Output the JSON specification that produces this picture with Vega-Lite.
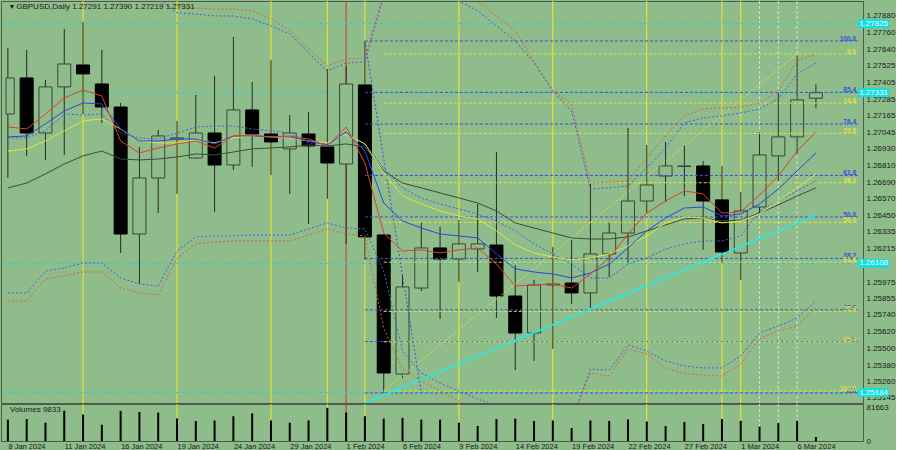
{
  "$schema": "https://vega.github.io/schema/vega-lite/v6.json",
  "background": "#8fbc8b",
  "padding": {"left": 0, "top": 0, "right": 0, "bottom": 0},
  "autosize": {"type": "pad", "contains": "content"},
  "spacing": 1,
  "bounds": "flush",
  "config": {
    "padding": 0,
    "view": {"stroke": "#4f5a4f", "strokeWidth": 1, "fill": "#8fbc8b"},
    "axis": {"grid": false, "ticks": false, "domain": false, "labelFont": "Liberation Sans", "labelColor": "#1a1a1a", "labelOverlap": false},
    "text": {"font": "Liberation Sans"}
  },
  "datasets": {
    "bars": [
      {"i":0,"o":1.27178,"h":1.27651,"l":1.2672,"c":1.27436,"v":52500,"red":1.27085,"blue":1.27014,"yel":1.26913,"gray":1.26649,"bdot":1.27007,"upR":1.28166,"upB":1.28131,"loR":1.25839,"loB":1.25897},
      {"i":1,"o":1.27436,"h":1.27637,"l":1.26878,"c":1.27042,"v":54000,"red":1.27071,"blue":1.27021,"yel":1.26928,"gray":1.26684,"bdot":1.27007,"upR":1.28166,"upB":1.28131,"loR":1.25839,"loB":1.25897},
      {"i":2,"o":1.27042,"h":1.27422,"l":1.26849,"c":1.27372,"v":45000,"red":1.27178,"blue":1.27107,"yel":1.26985,"gray":1.26749,"bdot":1.27057,"upR":1.28166,"upB":1.28131,"loR":1.25997,"loB":1.26054},
      {"i":3,"o":1.27372,"h":1.27787,"l":1.26885,"c":1.27536,"v":74500,"red":1.27293,"blue":1.272,"yel":1.27057,"gray":1.2682,"bdot":1.27178,"upR":1.28166,"upB":1.28131,"loR":1.26018,"loB":1.26076},
      {"i":4,"o":1.27529,"h":1.27837,"l":1.27178,"c":1.27465,"v":65000,"red":1.2735,"blue":1.27257,"yel":1.27128,"gray":1.26878,"bdot":1.27171,"upR":1.28166,"upB":1.28131,"loR":1.26047,"loB":1.26112},
      {"i":5,"o":1.27393,"h":1.27637,"l":1.27114,"c":1.27228,"v":40000,"red":1.27307,"blue":1.2725,"yel":1.27143,"gray":1.26913,"bdot":1.27178,"upR":1.28166,"upB":1.28131,"loR":1.26047,"loB":1.26112},
      {"i":6,"o":1.27228,"h":1.27257,"l":1.26183,"c":1.26319,"v":74000,"red":1.26985,"blue":1.27071,"yel":1.27071,"gray":1.26856,"bdot":1.27042,"upR":1.28166,"upB":1.28131,"loR":1.25932,"loB":1.26004},
      {"i":7,"o":1.26319,"h":1.26942,"l":1.25961,"c":1.2672,"v":71500,"red":1.26899,"blue":1.26985,"yel":1.26985,"gray":1.26849,"bdot":1.27007,"upR":1.28166,"upB":1.28131,"loR":1.25897,"loB":1.25961},
      {"i":8,"o":1.2672,"h":1.27064,"l":1.26469,"c":1.27021,"v":70000,"red":1.26935,"blue":1.26985,"yel":1.26971,"gray":1.26856,"bdot":1.26999,"upR":1.28045,"upB":1.28002,"loR":1.25882,"loB":1.25947},
      {"i":9,"o":1.26999,"h":1.27128,"l":1.26606,"c":1.27007,"v":55500,"red":1.26964,"blue":1.26999,"yel":1.26971,"gray":1.2687,"bdot":1.27042,"upR":1.27952,"upB":1.27902,"loR":1.26147,"loB":1.26197},
      {"i":10,"o":1.26863,"h":1.27314,"l":1.26856,"c":1.27042,"v":49000,"red":1.26985,"blue":1.26999,"yel":1.26992,"gray":1.26892,"bdot":1.27085,"upR":1.27937,"upB":1.27894,"loR":1.26248,"loB":1.26298},
      {"i":11,"o":1.27042,"h":1.2745,"l":1.26477,"c":1.26813,"v":50500,"red":1.26935,"blue":1.26964,"yel":1.26971,"gray":1.26885,"bdot":1.27092,"upR":1.2793,"upB":1.2788,"loR":1.26262,"loB":1.26305},
      {"i":12,"o":1.26813,"h":1.2773,"l":1.26777,"c":1.27207,"v":61000,"red":1.27021,"blue":1.27021,"yel":1.27007,"gray":1.26906,"bdot":1.27092,"upR":1.2793,"upB":1.2788,"loR":1.26269,"loB":1.26305},
      {"i":13,"o":1.27207,"h":1.27407,"l":1.26799,"c":1.27035,"v":68000,"red":1.27028,"blue":1.27021,"yel":1.27021,"gray":1.26928,"bdot":1.27071,"upR":1.27916,"upB":1.27859,"loR":1.26269,"loB":1.26312},
      {"i":14,"o":1.27035,"h":1.27565,"l":1.26742,"c":1.26978,"v":50500,"red":1.27014,"blue":1.27014,"yel":1.27014,"gray":1.26935,"bdot":1.27057,"upR":1.27859,"upB":1.27808,"loR":1.26269,"loB":1.26312},
      {"i":15,"o":1.26928,"h":1.27171,"l":1.26606,"c":1.27042,"v":45000,"red":1.27021,"blue":1.27014,"yel":1.27007,"gray":1.26942,"bdot":1.27042,"upR":1.27773,"upB":1.27751,"loR":1.26269,"loB":1.26312},
      {"i":16,"o":1.27035,"h":1.27193,"l":1.26391,"c":1.26949,"v":50500,"red":1.26999,"blue":1.26985,"yel":1.26985,"gray":1.26956,"bdot":1.26971,"upR":1.27644,"upB":1.27615,"loR":1.26312,"loB":1.26355},
      {"i":17,"o":1.26942,"h":1.27501,"l":1.2657,"c":1.26827,"v":81663,"red":1.26949,"blue":1.26956,"yel":1.26971,"gray":1.26949,"bdot":1.26964,"upR":1.27522,"upB":1.27486,"loR":1.26355,"loB":1.26398},
      {"i":18,"o":1.2682,"h":1.27522,"l":1.26248,"c":1.27393,"v":70000,"red":1.27085,"blue":1.27049,"yel":1.27035,"gray":1.26964,"bdot":1.27042,"upR":1.27572,"upB":1.27543,"loR":1.26319,"loB":1.26362},
      {"i":19,"o":1.27386,"h":1.27701,"l":1.26133,"c":1.26298,"v":61000,"red":1.26827,"blue":1.26913,"yel":1.26964,"gray":1.26942,"bdot":1.26964,"upR":1.27579,"upB":1.27551,"loR":1.26305,"loB":1.26355},
      {"i":20,"o":1.26312,"h":1.26319,"l":1.25181,"c":1.25324,"v":55000,"red":1.26326,"blue":1.26541,"yel":1.26756,"gray":1.2677,"bdot":1.26792,"upR":1.28045,"upB":1.28023,"loR":1.25646,"loB":1.26054},
      {"i":21,"o":1.25317,"h":1.26033,"l":1.25288,"c":1.2594,"v":57000,"red":1.26197,"blue":1.26412,"yel":1.26591,"gray":1.26684,"bdot":1.26649,"upR":1.28202,"upB":1.28166,"loR":1.25352,"loB":1.25481},
      {"i":22,"o":1.25932,"h":1.26405,"l":1.25911,"c":1.26219,"v":52500,"red":1.26205,"blue":1.26362,"yel":1.26534,"gray":1.26649,"bdot":1.26577,"upR":1.28202,"upB":1.28166,"loR":1.25267,"loB":1.25324},
      {"i":23,"o":1.26219,"h":1.26369,"l":1.25711,"c":1.2614,"v":52500,"red":1.26183,"blue":1.26319,"yel":1.26484,"gray":1.26613,"bdot":1.26534,"upR":1.28202,"upB":1.28095,"loR":1.25195,"loB":1.25252},
      {"i":24,"o":1.2614,"h":1.26419,"l":1.25975,"c":1.26248,"v":45000,"red":1.26205,"blue":1.26305,"yel":1.26448,"gray":1.26577,"bdot":1.26498,"upR":1.28095,"upB":1.27987,"loR":1.25123,"loB":1.25195},
      {"i":25,"o":1.26212,"h":1.26534,"l":1.26047,"c":1.26248,"v":37000,"red":1.26219,"blue":1.26291,"yel":1.26427,"gray":1.26541,"bdot":1.26462,"upR":1.27987,"upB":1.27916,"loR":1.25052,"loB":1.25138},
      {"i":26,"o":1.2624,"h":1.26906,"l":1.25718,"c":1.25875,"v":54000,"red":1.26104,"blue":1.26176,"yel":1.26341,"gray":1.26484,"bdot":1.26412,"upR":1.2788,"upB":1.27808,"loR":1.2498,"loB":1.25088},
      {"i":27,"o":1.25875,"h":1.26097,"l":1.25345,"c":1.2561,"v":55000,"red":1.25947,"blue":1.26069,"yel":1.2624,"gray":1.26398,"bdot":1.26341,"upR":1.27773,"upB":1.27701,"loR":1.2498,"loB":1.2498},
      {"i":28,"o":1.2561,"h":1.2599,"l":1.2541,"c":1.25954,"v":49000,"red":1.25954,"blue":1.26047,"yel":1.26183,"gray":1.26362,"bdot":1.26248,"upR":1.27558,"upB":1.27543,"loR":1.2498,"loB":1.2498},
      {"i":29,"o":1.25954,"h":1.26226,"l":1.25496,"c":1.25961,"v":50500,"red":1.25961,"blue":1.26033,"yel":1.26154,"gray":1.26326,"bdot":1.26176,"upR":1.27343,"upB":1.27343,"loR":1.2498,"loB":1.2498},
      {"i":30,"o":1.25968,"h":1.26276,"l":1.25818,"c":1.25897,"v":32000,"red":1.25932,"blue":1.26004,"yel":1.26133,"gray":1.26291,"bdot":1.26104,"upR":1.2725,"upB":1.272,"loR":1.2498,"loB":1.2498},
      {"i":31,"o":1.25897,"h":1.26677,"l":1.25789,"c":1.26176,"v":50500,"red":1.26033,"blue":1.2604,"yel":1.26147,"gray":1.26283,"bdot":1.26004,"upR":1.26684,"upB":1.26641,"loR":1.25324,"loB":1.25352},
      {"i":32,"o":1.26176,"h":1.26405,"l":1.26011,"c":1.26326,"v":49500,"red":1.26147,"blue":1.26104,"yel":1.26176,"gray":1.26283,"bdot":1.26004,"upR":1.26691,"upB":1.26649,"loR":1.25302,"loB":1.25345},
      {"i":33,"o":1.26326,"h":1.27078,"l":1.26112,"c":1.26555,"v":53000,"red":1.26319,"blue":1.26219,"yel":1.26233,"gray":1.26298,"bdot":1.26104,"upR":1.26699,"upB":1.26663,"loR":1.25496,"loB":1.25524},
      {"i":34,"o":1.26555,"h":1.26956,"l":1.26469,"c":1.2667,"v":48000,"red":1.26469,"blue":1.26341,"yel":1.26305,"gray":1.26341,"bdot":1.26147,"upR":1.26863,"upB":1.26792,"loR":1.2546,"loB":1.25481},
      {"i":35,"o":1.26734,"h":1.26978,"l":1.26548,"c":1.26806,"v":36500,"red":1.26555,"blue":1.26434,"yel":1.26398,"gray":1.26384,"bdot":1.26212,"upR":1.27021,"upB":1.26935,"loR":1.2536,"loB":1.2541},
      {"i":36,"o":1.26802,"h":1.26956,"l":1.26591,"c":1.26806,"v":46500,"red":1.26627,"blue":1.26505,"yel":1.26441,"gray":1.26427,"bdot":1.26248,"upR":1.27164,"upB":1.27114,"loR":1.25317,"loB":1.25374},
      {"i":37,"o":1.26806,"h":1.26842,"l":1.26205,"c":1.26555,"v":42000,"red":1.26606,"blue":1.26512,"yel":1.26434,"gray":1.26434,"bdot":1.26269,"upR":1.27214,"upB":1.2715,"loR":1.2531,"loB":1.2536},
      {"i":38,"o":1.26563,"h":1.26806,"l":1.26112,"c":1.2619,"v":54000,"red":1.26469,"blue":1.26448,"yel":1.26398,"gray":1.26412,"bdot":1.26269,"upR":1.27221,"upB":1.27164,"loR":1.25302,"loB":1.2536},
      {"i":39,"o":1.26183,"h":1.2662,"l":1.2599,"c":1.26484,"v":49500,"red":1.26477,"blue":1.26462,"yel":1.26412,"gray":1.26419,"bdot":1.26305,"upR":1.27228,"upB":1.27186,"loR":1.25388,"loB":1.25446},
      {"i":40,"o":1.26512,"h":1.27049,"l":1.26469,"c":1.26885,"v":35500,"red":1.26598,"blue":1.26534,"yel":1.26462,"gray":1.26469,"bdot":1.26484,"upR":1.27257,"upB":1.27214,"loR":1.25567,"loB":1.2561},
      {"i":41,"o":1.26878,"h":1.27329,"l":1.26699,"c":1.27014,"v":44000,"red":1.26734,"blue":1.26641,"yel":1.26555,"gray":1.26527,"bdot":1.26555,"upR":1.27343,"upB":1.27286,"loR":1.25625,"loB":1.2566},
      {"i":42,"o":1.27014,"h":1.27594,"l":1.26892,"c":1.27279,"v":49500,"red":1.26913,"blue":1.2677,"yel":1.26649,"gray":1.26591,"bdot":1.26627,"upR":1.27558,"upB":1.27465,"loR":1.2566,"loB":1.25718},
      {"i":43,"o":1.27291,"h":1.2739,"l":1.27219,"c":1.27331,"v":9833,"red":1.27049,"blue":1.26899,"yel":1.26749,"gray":1.26649,"bdot":1.26699,"upR":1.27608,"upB":1.27543,"loR":1.25796,"loB":1.25839}
    ],
    "vlines": [
      {"i":4,"k":"marker"},{"i":9,"k":"marker"},{"i":14,"k":"marker"},{"i":17,"k":"marker"},{"i":18,"k":"event"},{"i":19,"k":"marker"},{"i":24,"k":"marker"},{"i":29,"k":"marker"},{"i":34,"k":"marker"},{"i":38,"k":"marker"},{"i":39,"k":"marker"},{"i":40,"k":"recent"},{"i":41,"k":"recent"},{"i":42,"k":"recent"}
    ],
    "levels": [{"p":1.27825},{"p":1.27331},{"p":1.26108},{"p":1.25184}],
    "fib": [
      {"set":"A","i":19,"lbl":"100.0","p":1.27701},
      {"set":"A","i":19,"lbl":"85.4","p":1.27333},
      {"set":"A","i":19,"lbl":"76.4","p":1.27106},
      {"set":"A","i":19,"lbl":"61.8","p":1.26738},
      {"set":"A","i":19,"lbl":"50.0","p":1.26441},
      {"set":"A","i":19,"lbl":"38.2","p":1.26144},
      {"set":"A","i":19,"lbl":"23.6","p":1.25776},
      {"set":"A","i":19,"lbl":"14.6","p":1.25549},
      {"set":"A","i":19,"lbl":"0.0","p":1.25181},
      {"set":"B","i":20,"lbl":"0.0","p":1.27608},
      {"set":"B","i":20,"lbl":"14.6","p":1.27256},
      {"set":"B","i":20,"lbl":"23.6","p":1.27039},
      {"set":"B","i":20,"lbl":"38.2","p":1.26686},
      {"set":"B","i":20,"lbl":"50.0","p":1.26402},
      {"set":"B","i":20,"lbl":"61.8","p":1.26117},
      {"set":"B","i":20,"lbl":"76.4","p":1.25765},
      {"set":"B","i":20,"lbl":"85.4","p":1.25547},
      {"set":"B","i":20,"lbl":"100.0","p":1.25195}
    ],
    "trend": [
      {"name":"support","i":19,"p":1.25109},{"name":"support","i":43,"p":1.26455},
      {"name":"fibA","i":19,"p":1.27701},{"name":"fibA","i":22,"p":1.25181},
      {"name":"fibB","i":20,"p":1.25195},{"name":"fibB","i":42,"p":1.27608}
    ]
  },
  "vconcat": [
    {
      "width": 862,
      "height": 402,
      "layer": [
        {
          "data": {"name": "vlines"},
          "mark": {"type": "rule", "strokeWidth": 1},
          "encoding": {
            "x": {"field": "i", "type": "quantitative", "scale": {"domain": [-0.1, 45.24], "nice": false, "zero": false}, "axis": null},
            "color": {"condition": [{"test": "datum.k == 'event'", "value": "#e0301c"}, {"test": "datum.k == 'recent'", "value": "#d6e2cf"}], "value": "#ecec1c"},
            "strokeDash": {"condition": {"test": "datum.k == 'recent'", "value": [3, 2]}, "value": [1, 0]}
          }
        },
        {
          "data": {"name": "levels"},
          "mark": {"type": "rule", "color": "#1ad6d6", "strokeDash": [3, 3], "strokeWidth": 1},
          "encoding": {
            "y": {"field": "p", "type": "quantitative", "title": null, "scale": {"domain": [1.25109, 1.27987], "nice": false, "zero": false},
              "axis": {"orient": "right", "title": null, "format": ".5f", "labelFontSize": 8, "labelPadding": 3, "labelBaseline": "middle", "values": [1.2788, 1.2776, 1.2764, 1.27525, 1.27405, 1.27285, 1.27165, 1.27045, 1.2693, 1.2681, 1.2669, 1.2657, 1.2645, 1.26335, 1.26215, 1.25975, 1.25855, 1.2574, 1.2562, 1.255, 1.2538, 1.2526, 1.25145]}}
          }
        },
        {
          "data": {"name": "bars"},
          "mark": {"type": "rule", "color": "#262a26", "strokeWidth": 1, "clip": true},
          "encoding": {
            "x": {"field": "i", "type": "quantitative", "scale": {"domain": [-0.1, 45.24], "nice": false, "zero": false}, "axis": null},
            "y": {"field": "l", "type": "quantitative", "title": null, "scale": {"domain": [1.25109, 1.27987], "nice": false, "zero": false},
              "axis": {"orient": "right", "title": null, "format": ".5f", "labelFontSize": 8, "labelPadding": 3, "labelBaseline": "middle", "values": [1.2788, 1.2776, 1.2764, 1.27525, 1.27405, 1.27285, 1.27165, 1.27045, 1.2693, 1.2681, 1.2669, 1.2657, 1.2645, 1.26335, 1.26215, 1.25975, 1.25855, 1.2574, 1.2562, 1.255, 1.2538, 1.2526, 1.25145]}},
            "y2": {"field": "h"}
          }
        },
        {
          "data": {"name": "bars"},
          "transform": [{"filter": "datum.i > 0"}],
          "mark": {"type": "bar", "size": 13, "strokeWidth": 1, "clip": true},
          "encoding": {
            "x": {"field": "i", "type": "quantitative", "scale": {"domain": [-0.1, 45.24], "nice": false, "zero": false}, "axis": null},
            "y": {"field": "o", "type": "quantitative", "title": null, "scale": {"domain": [1.25109, 1.27987], "nice": false, "zero": false},
              "axis": {"orient": "right", "title": null, "format": ".5f", "labelFontSize": 8, "labelPadding": 3, "labelBaseline": "middle", "values": [1.2788, 1.2776, 1.2764, 1.27525, 1.27405, 1.27285, 1.27165, 1.27045, 1.2693, 1.2681, 1.2669, 1.2657, 1.2645, 1.26335, 1.26215, 1.25975, 1.25855, 1.2574, 1.2562, 1.255, 1.2538, 1.2526, 1.25145]}},
            "y2": {"field": "c"},
            "fill": {"condition": {"test": "datum.c >= datum.o", "value": "#8fbc8b"}, "value": "#000000"},
            "stroke": {"condition": {"test": "datum.c >= datum.o", "value": "#3a463a"}, "value": "#000000"}
          }
        },
        {
          "data": {"name": "bars"},
          "transform": [{"filter": "datum.i == 0"}],
          "mark": {"type": "rect", "strokeWidth": 1, "clip": true},
          "encoding": {
            "x": {"datum": -0.1, "type": "quantitative", "scale": {"domain": [-0.1, 45.24], "nice": false, "zero": false}, "axis": null},
            "x2": {"datum": 0.34},
            "y": {"field": "o", "type": "quantitative", "title": null, "scale": {"domain": [1.25109, 1.27987], "nice": false, "zero": false},
              "axis": {"orient": "right", "title": null, "format": ".5f", "labelFontSize": 8, "labelPadding": 3, "labelBaseline": "middle", "values": [1.2788, 1.2776, 1.2764, 1.27525, 1.27405, 1.27285, 1.27165, 1.27045, 1.2693, 1.2681, 1.2669, 1.2657, 1.2645, 1.26335, 1.26215, 1.25975, 1.25855, 1.2574, 1.2562, 1.255, 1.2538, 1.2526, 1.25145]}},
            "y2": {"field": "c"},
            "fill": {"condition": {"test": "datum.c >= datum.o", "value": "#8fbc8b"}, "value": "#000000"},
            "stroke": {"condition": {"test": "datum.c >= datum.o", "value": "#3a463a"}, "value": "#000000"}
          }
        },
        {
          "data": {"name": "fib"},
          "mark": {"type": "rule", "strokeDash": [3, 2], "strokeWidth": 1, "clip": true},
          "encoding": {
            "x": {"field": "i", "type": "quantitative", "scale": {"domain": [-0.1, 45.24], "nice": false, "zero": false}, "axis": null},
            "x2": {"datum": 45.24},
            "y": {"field": "p", "type": "quantitative", "title": null, "scale": {"domain": [1.25109, 1.27987], "nice": false, "zero": false},
              "axis": {"orient": "right", "title": null, "format": ".5f", "labelFontSize": 8, "labelPadding": 3, "labelBaseline": "middle", "values": [1.2788, 1.2776, 1.2764, 1.27525, 1.27405, 1.27285, 1.27165, 1.27045, 1.2693, 1.2681, 1.2669, 1.2657, 1.2645, 1.26335, 1.26215, 1.25975, 1.25855, 1.2574, 1.2562, 1.255, 1.2538, 1.2526, 1.25145]}},
            "color": {"condition": {"test": "datum.set == 'A'", "value": "#3a50dc"}, "value": "#e2e23a"}
          }
        },
        {
          "data": {"name": "trend"},
          "transform": [{"filter": "datum.name == 'fibA'"}],
          "mark": {"type": "line", "color": "#3a50dc", "strokeDash": [2, 2], "strokeWidth": 1, "clip": true},
          "encoding": {
            "x": {"field": "i", "type": "quantitative", "scale": {"domain": [-0.1, 45.24], "nice": false, "zero": false}, "axis": null},
            "y": {"field": "p", "type": "quantitative", "title": null, "scale": {"domain": [1.25109, 1.27987], "nice": false, "zero": false},
              "axis": {"orient": "right", "title": null, "format": ".5f", "labelFontSize": 8, "labelPadding": 3, "labelBaseline": "middle", "values": [1.2788, 1.2776, 1.2764, 1.27525, 1.27405, 1.27285, 1.27165, 1.27045, 1.2693, 1.2681, 1.2669, 1.2657, 1.2645, 1.26335, 1.26215, 1.25975, 1.25855, 1.2574, 1.2562, 1.255, 1.2538, 1.2526, 1.25145]}}
          }
        },
        {
          "data": {"name": "trend"},
          "transform": [{"filter": "datum.name == 'fibB'"}],
          "mark": {"type": "line", "color": "#e2e23a", "strokeDash": [2, 2], "strokeWidth": 1, "clip": true},
          "encoding": {
            "x": {"field": "i", "type": "quantitative", "scale": {"domain": [-0.1, 45.24], "nice": false, "zero": false}, "axis": null},
            "y": {"field": "p", "type": "quantitative", "title": null, "scale": {"domain": [1.25109, 1.27987], "nice": false, "zero": false},
              "axis": {"orient": "right", "title": null, "format": ".5f", "labelFontSize": 8, "labelPadding": 3, "labelBaseline": "middle", "values": [1.2788, 1.2776, 1.2764, 1.27525, 1.27405, 1.27285, 1.27165, 1.27045, 1.2693, 1.2681, 1.2669, 1.2657, 1.2645, 1.26335, 1.26215, 1.25975, 1.25855, 1.2574, 1.2562, 1.255, 1.2538, 1.2526, 1.25145]}}
          }
        },
        {
          "data": {"name": "bars"},
          "transform": [{"fold": ["upR", "loR"], "as": ["band", "val"]}],
          "mark": {"type": "line", "color": "#e0603c", "strokeDash": [2, 2], "strokeWidth": 1, "clip": true},
          "encoding": {
            "x": {"field": "i", "type": "quantitative", "scale": {"domain": [-0.1, 45.24], "nice": false, "zero": false}, "axis": null},
            "y": {"field": "val", "type": "quantitative", "title": null, "scale": {"domain": [1.25109, 1.27987], "nice": false, "zero": false},
              "axis": {"orient": "right", "title": null, "format": ".5f", "labelFontSize": 8, "labelPadding": 3, "labelBaseline": "middle", "values": [1.2788, 1.2776, 1.2764, 1.27525, 1.27405, 1.27285, 1.27165, 1.27045, 1.2693, 1.2681, 1.2669, 1.2657, 1.2645, 1.26335, 1.26215, 1.25975, 1.25855, 1.2574, 1.2562, 1.255, 1.2538, 1.2526, 1.25145]}},
            "detail": {"field": "band"}
          }
        },
        {
          "data": {"name": "bars"},
          "transform": [{"fold": ["upB", "loB", "bdot"], "as": ["band", "val"]}],
          "mark": {"type": "line", "color": "#4060e0", "strokeDash": [2, 2], "strokeWidth": 1, "clip": true},
          "encoding": {
            "x": {"field": "i", "type": "quantitative", "scale": {"domain": [-0.1, 45.24], "nice": false, "zero": false}, "axis": null},
            "y": {"field": "val", "type": "quantitative", "title": null, "scale": {"domain": [1.25109, 1.27987], "nice": false, "zero": false},
              "axis": {"orient": "right", "title": null, "format": ".5f", "labelFontSize": 8, "labelPadding": 3, "labelBaseline": "middle", "values": [1.2788, 1.2776, 1.2764, 1.27525, 1.27405, 1.27285, 1.27165, 1.27045, 1.2693, 1.2681, 1.2669, 1.2657, 1.2645, 1.26335, 1.26215, 1.25975, 1.25855, 1.2574, 1.2562, 1.255, 1.2538, 1.2526, 1.25145]}},
            "detail": {"field": "band"}
          }
        },
        {
          "data": {"name": "bars"},
          "transform": [{"fold": ["gray", "yel", "blue", "red"], "as": ["ma", "val"]}],
          "mark": {"type": "line", "strokeWidth": 1, "clip": true},
          "encoding": {
            "x": {"field": "i", "type": "quantitative", "scale": {"domain": [-0.1, 45.24], "nice": false, "zero": false}, "axis": null},
            "y": {"field": "val", "type": "quantitative", "title": null, "scale": {"domain": [1.25109, 1.27987], "nice": false, "zero": false},
              "axis": {"orient": "right", "title": null, "format": ".5f", "labelFontSize": 8, "labelPadding": 3, "labelBaseline": "middle", "values": [1.2788, 1.2776, 1.2764, 1.27525, 1.27405, 1.27285, 1.27165, 1.27045, 1.2693, 1.2681, 1.2669, 1.2657, 1.2645, 1.26335, 1.26215, 1.25975, 1.25855, 1.2574, 1.2562, 1.255, 1.2538, 1.2526, 1.25145]}},
            "color": {"field": "ma", "type": "nominal", "scale": {"domain": ["gray", "yel", "blue", "red"], "range": ["#3c4c3c", "#e4e43e", "#2846e6", "#e0402a"]}, "legend": null},
            "detail": {"field": "ma"}
          }
        },
        {
          "data": {"name": "trend"},
          "transform": [{"filter": "datum.name == 'support'"}],
          "mark": {"type": "line", "color": "#19f0f0", "strokeWidth": 1.5, "clip": true},
          "encoding": {
            "x": {"field": "i", "type": "quantitative", "scale": {"domain": [-0.1, 45.24], "nice": false, "zero": false}, "axis": null},
            "y": {"field": "p", "type": "quantitative", "title": null, "scale": {"domain": [1.25109, 1.27987], "nice": false, "zero": false},
              "axis": {"orient": "right", "title": null, "format": ".5f", "labelFontSize": 8, "labelPadding": 3, "labelBaseline": "middle", "values": [1.2788, 1.2776, 1.2764, 1.27525, 1.27405, 1.27285, 1.27165, 1.27045, 1.2693, 1.2681, 1.2669, 1.2657, 1.2645, 1.26335, 1.26215, 1.25975, 1.25855, 1.2574, 1.2562, 1.255, 1.2538, 1.2526, 1.25145]}}
          }
        },
        {
          "data": {"name": "fib"},
          "mark": {"type": "text", "align": "right", "baseline": "middle", "dx": -2, "dy": -2, "fontSize": 6.5, "fontWeight": "bold"},
          "encoding": {
            "x": {"datum": 45.24, "type": "quantitative", "scale": {"domain": [-0.1, 45.24], "nice": false, "zero": false}, "axis": null},
            "y": {"field": "p", "type": "quantitative", "title": null, "scale": {"domain": [1.25109, 1.27987], "nice": false, "zero": false},
              "axis": {"orient": "right", "title": null, "format": ".5f", "labelFontSize": 8, "labelPadding": 3, "labelBaseline": "middle", "values": [1.2788, 1.2776, 1.2764, 1.27525, 1.27405, 1.27285, 1.27165, 1.27045, 1.2693, 1.2681, 1.2669, 1.2657, 1.2645, 1.26335, 1.26215, 1.25975, 1.25855, 1.2574, 1.2562, 1.255, 1.2538, 1.2526, 1.25145]}},
            "text": {"field": "lbl"},
            "color": {"condition": {"test": "datum.set == 'A'", "value": "#3a50dc"}, "value": "#e2e23a"}
          }
        },
        {
          "data": {"name": "levels"},
          "mark": {"type": "tick", "orient": "horizontal", "size": 31, "thickness": 9, "color": "#14dede", "opacity": 1},
          "encoding": {
            "x": {"datum": 46.07, "type": "quantitative", "scale": {"domain": [-0.1, 45.24], "nice": false, "zero": false}, "axis": null},
            "y": {"field": "p", "type": "quantitative", "title": null, "scale": {"domain": [1.25109, 1.27987], "nice": false, "zero": false},
              "axis": {"orient": "right", "title": null, "format": ".5f", "labelFontSize": 8, "labelPadding": 3, "labelBaseline": "middle", "values": [1.2788, 1.2776, 1.2764, 1.27525, 1.27405, 1.27285, 1.27165, 1.27045, 1.2693, 1.2681, 1.2669, 1.2657, 1.2645, 1.26335, 1.26215, 1.25975, 1.25855, 1.2574, 1.2562, 1.255, 1.2538, 1.2526, 1.25145]}}
          }
        },
        {
          "data": {"name": "levels"},
          "mark": {"type": "text", "align": "center", "baseline": "middle", "fontSize": 8, "color": "#f4fafa"},
          "encoding": {
            "x": {"datum": 46.07, "type": "quantitative", "scale": {"domain": [-0.1, 45.24], "nice": false, "zero": false}, "axis": null},
            "y": {"field": "p", "type": "quantitative", "title": null, "scale": {"domain": [1.25109, 1.27987], "nice": false, "zero": false},
              "axis": {"orient": "right", "title": null, "format": ".5f", "labelFontSize": 8, "labelPadding": 3, "labelBaseline": "middle", "values": [1.2788, 1.2776, 1.2764, 1.27525, 1.27405, 1.27285, 1.27165, 1.27045, 1.2693, 1.2681, 1.2669, 1.2657, 1.2645, 1.26335, 1.26215, 1.25975, 1.25855, 1.2574, 1.2562, 1.255, 1.2538, 1.2526, 1.25145]}},
            "text": {"field": "p", "format": ".5f"}
          }
        },
        {
          "data": {"values": [{}]},
          "mark": {"type": "text", "align": "left", "baseline": "top", "dx": 4, "dy": 2, "fontSize": 8, "color": "#1a1a1a"},
          "encoding": {
            "x": {"datum": -0.1, "type": "quantitative", "scale": {"domain": [-0.1, 45.24], "nice": false, "zero": false}, "axis": null},
            "y": {"datum": 1.27987, "type": "quantitative", "title": null, "scale": {"domain": [1.25109, 1.27987], "nice": false, "zero": false},
              "axis": {"orient": "right", "title": null, "format": ".5f", "labelFontSize": 8, "labelPadding": 3, "labelBaseline": "middle", "values": [1.2788, 1.2776, 1.2764, 1.27525, 1.27405, 1.27285, 1.27165, 1.27045, 1.2693, 1.2681, 1.2669, 1.2657, 1.2645, 1.26335, 1.26215, 1.25975, 1.25855, 1.2574, 1.2562, 1.255, 1.2538, 1.2526, 1.25145]}},
            "text": {"value": "▾ GBPUSD,Daily  1.27291 1.27390 1.27219 1.27331"}
          }
        }
      ]
    },
    {
      "width": 862,
      "height": 37,
      "layer": [
        {
          "data": {"name": "vlines"},
          "mark": {"type": "rule", "strokeWidth": 1},
          "encoding": {
            "x": {"field": "i", "type": "quantitative", "title": null, "scale": {"domain": [-0.1, 45.24], "nice": false, "zero": false},
              "axis": {"values": [0, 3, 6, 9, 12, 15, 18, 21, 24, 27, 30, 33, 36, 39, 42], "title": null, "labelAlign": "left", "labelBaseline": "top", "labelFlush": false, "labelFontSize": 7.5, "labelPadding": 1, "labelExpr": "['8 Jan 2024','11 Jan 2024','16 Jan 2024','19 Jan 2024','24 Jan 2024','29 Jan 2024','1 Feb 2024','6 Feb 2024','9 Feb 2024','14 Feb 2024','19 Feb 2024','22 Feb 2024','27 Feb 2024','1 Mar 2024','6 Mar 2024'][round(datum.value/3)]"}},
            "color": {"condition": [{"test": "datum.k == 'event'", "value": "#e0301c"}, {"test": "datum.k == 'recent'", "value": "#d6e2cf"}], "value": "#ecec1c"},
            "strokeDash": {"condition": {"test": "datum.k == 'recent'", "value": [3, 2]}, "value": [1, 0]}
          }
        },
        {
          "data": {"name": "bars"},
          "mark": {"type": "bar", "orient": "vertical", "size": 2, "color": "#000000"},
          "encoding": {
            "x": {"field": "i", "type": "quantitative", "title": null, "scale": {"domain": [-0.1, 45.24], "nice": false, "zero": false},
              "axis": {"values": [0, 3, 6, 9, 12, 15, 18, 21, 24, 27, 30, 33, 36, 39, 42], "title": null, "labelAlign": "left", "labelBaseline": "top", "labelFlush": false, "labelFontSize": 7.5, "labelPadding": 1, "labelExpr": "['8 Jan 2024','11 Jan 2024','16 Jan 2024','19 Jan 2024','24 Jan 2024','29 Jan 2024','1 Feb 2024','6 Feb 2024','9 Feb 2024','14 Feb 2024','19 Feb 2024','22 Feb 2024','27 Feb 2024','1 Mar 2024','6 Mar 2024'][round(datum.value/3)]"}},
            "y": {"field": "v", "type": "quantitative", "title": null, "scale": {"domain": [0, 91000], "nice": false, "zero": true},
              "axis": {"orient": "right", "title": null, "values": [0, 81663], "format": "d", "labelFontSize": 8, "labelPadding": 3}}
          }
        },
        {
          "data": {"values": [{}]},
          "mark": {"type": "text", "align": "left", "baseline": "top", "dx": 4, "dy": 2, "fontSize": 8, "color": "#1a1a1a"},
          "encoding": {
            "x": {"datum": -0.1, "type": "quantitative", "title": null, "scale": {"domain": [-0.1, 45.24], "nice": false, "zero": false},
              "axis": {"values": [0, 3, 6, 9, 12, 15, 18, 21, 24, 27, 30, 33, 36, 39, 42], "title": null, "labelAlign": "left", "labelBaseline": "top", "labelFlush": false, "labelFontSize": 7.5, "labelPadding": 1, "labelExpr": "['8 Jan 2024','11 Jan 2024','16 Jan 2024','19 Jan 2024','24 Jan 2024','29 Jan 2024','1 Feb 2024','6 Feb 2024','9 Feb 2024','14 Feb 2024','19 Feb 2024','22 Feb 2024','27 Feb 2024','1 Mar 2024','6 Mar 2024'][round(datum.value/3)]"}},
            "y": {"datum": 91000, "type": "quantitative", "title": null, "scale": {"domain": [0, 91000], "nice": false, "zero": true},
              "axis": {"orient": "right", "title": null, "values": [0, 81663], "format": "d", "labelFontSize": 8, "labelPadding": 3}},
            "text": {"value": "Volumes 9833"}
          }
        }
      ]
    }
  ]
}
